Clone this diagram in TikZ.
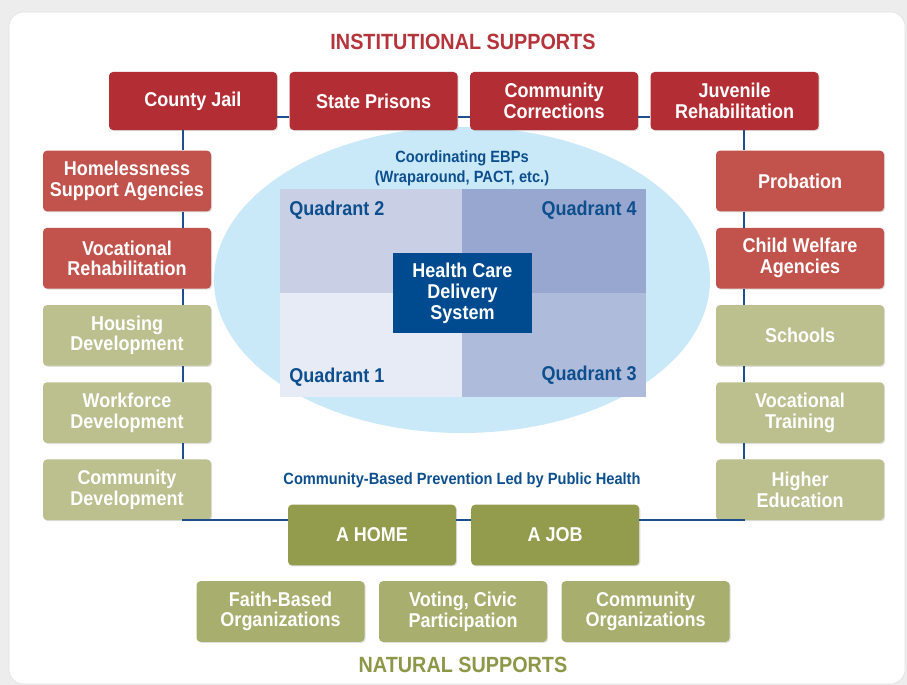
\documentclass[tikz,border=0pt]{standalone}
\usepackage{fontspec}
\newfontfamily\condfont{Liberation Sans}[FakeStretch=0.9]
\usetikzlibrary{positioning,shadows}

\definecolor{instred}{HTML}{B32D34}
\definecolor{agencyred}{HTML}{C2534C}
\definecolor{lightolive}{HTML}{BCC08F}
\definecolor{darkolive}{HTML}{939B4D}
\definecolor{midolive}{HTML}{A8AE6D}
\definecolor{titlered}{HTML}{B5333A}
\definecolor{natolive}{HTML}{8E9648}
\definecolor{ebpblue}{HTML}{0D4F8E}
\definecolor{hcblue}{HTML}{004A8F}
\definecolor{linkblue}{HTML}{1F4E8C}
\definecolor{ebpfill}{HTML}{C9E9F8}
\definecolor{quadi}{HTML}{E7EBF5}
\definecolor{quadii}{HTML}{C9D0E5}
\definecolor{quadiii}{HTML}{AFBBDB}
\definecolor{quadiv}{HTML}{98A7CF}

\begin{document}
\begin{tikzpicture}[
  x=0.75pt, y=-0.75pt,
  node distance=12pt and 9pt,
  box/.style={rounded corners=3pt, align=center, text=white,
              font=\condfont\bfseries\fontsize{15}{15.5}\selectfont,
              minimum width=126pt, minimum height=45.5pt, inner sep=2pt,
              drop shadow={shadow xshift=0.8pt, shadow yshift=-0.8pt, opacity=0.25}},
  instbox/.style={box, fill=instred, minimum height=43.5pt},
  agencybox/.style={box, fill=agencyred},
  devbox/.style={box, fill=lightolive},
  corebox/.style={box, fill=darkolive},
  natbox/.style={box, fill=midolive},
  hcbox/.style={fill=hcblue, text=white, align=center, inner sep=0pt,
                font=\condfont\bfseries\fontsize{15}{15.75}\selectfont,
                minimum width=104pt, minimum height=60pt},
  link/.style={draw=linkblue, line width=1.1pt},
  heading/.style={font=\condfont\bfseries\fontsize{16.5}{18}\selectfont},
  note/.style={text=ebpblue, align=center,
               font=\condfont\bfseries\fontsize{12.2}{15}\selectfont},
  quadlabel/.style={text=ebpblue, inner sep=0pt,
                    font=\condfont\bfseries\fontsize{15}{16}\selectfont}
]
  \useasboundingbox (0,0) rectangle (907,685);

  % Panel
  \fill[gray!14] (0,0) rectangle (907,685);
  \filldraw[fill=white, draw=gray!25, rounded corners=11pt] (9,12) rectangle (905,684);

  % Coordinating EBPs and quadrants
  \fill[ebpfill] (462,280) ellipse [x radius=248, y radius=153];
  \fill[quadii] (280,189) rectangle (462,293);
  \fill[quadiv] (462,189) rectangle (646,293);
  \fill[quadi] (280,293) rectangle (462,397);
  \fill[quadiii] (462,293) rectangle (646,397);
  \node[quadlabel, anchor=base west] (q2) at (289,215) {Quadrant 2};
  \node[quadlabel, anchor=base east] (q4) at (637,215) {Quadrant 4};
  \node[quadlabel, anchor=base west] (q1) at (289,382) {Quadrant 1};
  \node[quadlabel, anchor=base east] (q3) at (637,380) {Quadrant 3};
  \node[hcbox] (hc) at (462.5,293) {Health Care\\Delivery\\System};
  \node[note] (ebp) at (462,168) {Coordinating EBPs\\(Wraparound, PACT, etc.)};
  \node[note] (prev) at (462,480) {Community-Based Prevention Led by Public Health};

  % Headings
  \node[heading, text=titlered] (inst) at (463,42) {INSTITUTIONAL SUPPORTS};
  \node[heading, text=natolive] (nat) at (463,665) {NATURAL SUPPORTS};

  % Institutional row
  \node[instbox] (cj) at (193,101) {County Jail};
  \node[instbox, right=of cj] (sp) {State Prisons};
  \node[instbox, right=of sp] (cc) {Community\\Corrections};
  \node[instbox, right=of cc] (jr) {Juvenile\\Rehabilitation};

  % Left column
  \node[agencybox] (hs) at (127,181) {Homelessness\\Support Agencies};
  \node[agencybox, below=of hs] (vrh) {Vocational\\Rehabilitation};
  \node[devbox, below=of vrh] (hd) {Housing\\Development};
  \node[devbox, below=of hd] (wd) {Workforce\\Development};
  \node[devbox, below=of wd] (cd) {Community\\Development};

  % Right column
  \node[agencybox] (pr) at (800,181) {Probation};
  \node[agencybox, below=of pr] (cw) {Child Welfare\\Agencies};
  \node[devbox, below=of cw] (sc) {Schools};
  \node[devbox, below=of sc] (vt) {Vocational\\Training};
  \node[devbox, below=of vt] (he) {Higher\\Education};

  % Home and job
  \node[corebox] (home) at (372,535) {A HOME};
  \node[corebox, right=11pt of home] (job) {A JOB};

  % Natural supports
  \node[natbox] (fb) at (280.5,611.5) {Faith-Based\\Organizations};
  \node[natbox, right=10.5pt of fb] (vc) {Voting, Civic\\Participation};
  \node[natbox, right=10.5pt of vc] (co) {Community\\Organizations};

  % Links
  \coordinate (hl) at (0,117);
  \coordinate (bl) at (0,520);
  \coordinate (lx) at (183,0);
  \coordinate (rx) at (744,0);
  \draw[link] (cj.east |- hl) -- (sp.west |- hl);
  \draw[link] (sp.east |- hl) -- (cc.west |- hl);
  \draw[link] (cc.east |- hl) -- (jr.west |- hl);
  \foreach \a/\b in {cj/hs, hs/vrh, vrh/hd, hd/wd, wd/cd}
    \draw[link] (\a.south -| lx) -- (\b.north -| lx);
  \foreach \a/\b in {jr/pr, pr/cw, cw/sc, sc/vt, vt/he}
    \draw[link] (\a.south -| rx) -- (\b.north -| rx);
  \draw[link] (cd.south -| lx) |- (home.west |- bl);
  \draw[link] (home.east |- bl) -- (job.west |- bl);
  \draw[link] (job.east |- bl) -| (he.south -| rx);
\end{tikzpicture}
\end{document}
